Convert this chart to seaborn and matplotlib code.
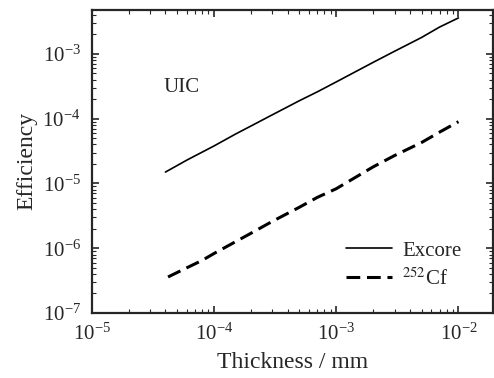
import numpy as np
import pandas as pd
import matplotlib
matplotlib.use('Agg')
import matplotlib.pyplot as plt
import seaborn as sns

# values (log-log)
excore_x = [4e-5, 6e-5, 1e-4, 1.5e-4, 2e-4, 3e-4, 5e-4, 7e-4, 1e-3, 2e-3, 3e-3, 5e-3, 7e-3, 1e-2]
excore_y = [1.5e-5, 2.3e-5, 3.8e-5, 5.8e-5, 7.7e-5, 1.15e-4, 1.9e-4, 2.6e-4, 3.7e-4, 7.4e-4, 1.1e-3, 1.8e-3, 2.6e-3, 3.6e-3]

cf_x = [4.2e-5, 6e-5, 8e-5, 1e-4, 2e-4, 3e-4, 5e-4, 7e-4, 1e-3, 2e-3, 3e-3, 5e-3, 7e-3, 1e-2]
cf_y = [3.6e-7, 5.0e-7, 6.5e-7, 8.3e-7, 1.7e-6, 2.6e-6, 4.3e-6, 6.1e-6, 8.3e-6, 1.8e-5, 2.7e-5, 4.3e-5, 6.2e-5, 9.0e-5]

sns.set_style('ticks')
plt.rcParams['font.family'] = ['Liberation Serif', 'DejaVu Serif']
plt.rcParams['mathtext.fontset'] = 'stix'

fig, ax = plt.subplots(figsize=(4.94, 3.78), dpi=100)
fig.subplots_adjust(left=0.186, right=0.997, bottom=0.172, top=0.974)

df1 = pd.DataFrame({'x': excore_x, 'y': excore_y})
df2 = pd.DataFrame({'x': cf_x, 'y': cf_y})
sns.lineplot(data=df1, x='x', y='y', ax=ax, color='black', lw=1.2, label='Excore')
sns.lineplot(data=df2, x='x', y='y', ax=ax, color='black', lw=2.2, linestyle=(0, (4.5, 2.2)),
             label='$^{252}$Cf')

ax.set_xscale('log')
ax.set_yscale('log')
ax.set_xlim(1e-5, 1.9e-2)
ax.set_ylim(1e-7, 4.8e-3)

ax.set_xlabel('Thickness / mm', fontsize=17, labelpad=5)
ax.set_ylabel('Efficiency', fontsize=17, labelpad=4)
ax.tick_params(which='both', direction='in', top=True, right=True, labelsize=15, pad=8)
ax.tick_params(which='major', length=5, width=1.2)
ax.tick_params(which='minor', length=3, width=0.8)
for s in ax.spines.values():
    s.set_linewidth(1.6)

ax.text(0.18, 0.73, 'UIC', transform=ax.transAxes, fontsize=15)

leg = ax.legend(loc='lower right', bbox_to_anchor=(0.97, 0.015), frameon=False, fontsize=15,
                handlelength=2.2, handletextpad=0.5, labelspacing=0.35)

fig.savefig('out.png', dpi=100)
